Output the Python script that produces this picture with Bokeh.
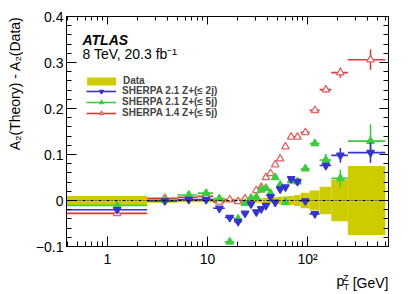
import numpy as np
from bokeh.plotting import figure
from bokeh.models import (FixedTicker, LogAxis, LinearAxis, Label, Legend, LegendItem,
                          Range1d, ColumnDataSource, Span, CustomJSTickFormatter, Title)
from bokeh.embed import file_html
from bokeh.resources import INLINE

# ---------------- data ----------------
bin_edges = [0, 2.5, 5, 8, 11.4, 14.9, 18.5, 22, 25.5, 29, 32.6, 36.4, 40.4, 44.9,
             50.2, 56.4, 63.9, 73.4, 85.4, 105, 132, 173, 253, 600]

data_unc = [0.010, 0.005, 0.004, 0.004, 0.004, 0.004, 0.004, 0.004, 0.005, 0.005,
            0.005, 0.006, 0.006, 0.007, 0.008, 0.009, 0.010, 0.012, 0.017, 0.022,
            0.030, 0.045, 0.075]

sh21_2j_val = [-0.020, -0.001, 0.002, 0.002, -0.017, -0.037, -0.046, -0.028, -0.008,
               -0.025, -0.018, -0.011, 0.008, -0.004, 0.025, 0.029, 0.047, 0.041,
               -0.001, -0.029, 0.076, 0.098, 0.104]
sh21_2j_err = [0.002, 0.002, 0.002, 0.002, 0.002, 0.002, 0.002, 0.002, 0.002, 0.002,
               0.002, 0.002, 0.002, 0.003, 0.003, 0.003, 0.003, 0.004, 0.004, 0.005,
               0.007, 0.016, 0.022]

sh21_5j_val = [-0.011, 0.001, 0.012, 0.016, 0.004, -0.090, -0.040, -0.006, 0.005,
               0.007, 0.023, 0.027, 0.016, 0.050, 0.034, -0.004, 0.043, 0.041,
               0.069, 0.124, 0.088, 0.048, 0.129]
sh21_5j_err = [0.002, 0.002, 0.002, 0.002, 0.002, 0.002, 0.002, 0.002, 0.002, 0.002,
               0.002, 0.002, 0.003, 0.003, 0.003, 0.003, 0.004, 0.004, 0.005, 0.006,
               0.013, 0.019, 0.036]

sh14_5j_val = [-0.028, 0.005, 0.007, 0.009, -0.003, 0.002, -0.002, 0.004, 0.004,
               0.022, 0.029, 0.050, 0.059, 0.078, 0.091, 0.117, 0.138, 0.138,
               0.148, 0.196, 0.241, 0.278, 0.306]
sh14_5j_err = [0.002, 0.002, 0.002, 0.002, 0.002, 0.002, 0.002, 0.002, 0.002, 0.002,
               0.002, 0.002, 0.003, 0.003, 0.003, 0.003, 0.004, 0.004, 0.004, 0.004,
               0.006, 0.011, 0.022]

y_ticks = [-0.1, 0.0, 0.1, 0.2, 0.3, 0.4]
x_ticks = [1, 10, 100]

labels = {
    "data": "Data",
    "b": "SHERPA 2.1 Z+(\u2264 2j)",
    "g": "SHERPA 2.1 Z+(\u2264 5j)",
    "r": "SHERPA 1.4 Z+(\u2264 5j)",
}

# ---------------- style ----------------
FONT = "Liberation Sans"
YEL = "#CCCC00"
BLUE = "#3535CC"
GREEN = "#3DCC3D"
RED = "#D63A3A"
RED_M = "#E06464"

x_start, x_end = 0.39, 645.0
lo = [max(e, x_start) for e in bin_edges[:-1]]
hi = bin_edges[1:]
centers = [(a + b) / 2 for a, b in zip(bin_edges[:-1], bin_edges[1:])]

p = figure(width=409, height=294, x_axis_type="log",
           x_range=Range1d(x_start, x_end), y_range=Range1d(-0.1, 0.4),
           output_backend="svg", toolbar_location=None,
           min_border_left=66, min_border_right=21, min_border_top=16, min_border_bottom=48)
p.xgrid.visible = False
p.ygrid.visible = False
p.outline_line_color = "black"
p.background_fill_color = "white"
p.border_fill_color = "white"

x_minor = [m * 10.0 ** d for d in (-1, 0, 1, 2) for m in range(2, 10)
           if x_start <= m * 10.0 ** d <= x_end]
xticker = FixedTicker(ticks=x_ticks, minor_ticks=x_minor)
yticker = FixedTicker(ticks=y_ticks, minor_ticks=[round(-0.1 + 0.02 * i, 2) for i in range(26)])

yfmt = CustomJSTickFormatter(code="""
if (Math.abs(tick) < 1e-9) return '0';
const s = Math.abs(tick).toFixed(1);
return tick < 0 ? '\u2212' + s : s;""")
xfmt = CustomJSTickFormatter(code="""
if (tick > 99) return '10\u00b2';
return tick.toFixed(0);""")


def style_axis(ax, major_in, minor_in, show_labels):
    ax.major_tick_in = major_in
    ax.major_tick_out = 0
    ax.minor_tick_in = minor_in
    ax.minor_tick_out = 0
    ax.axis_line_color = "black"
    ax.major_tick_line_color = "black"
    ax.minor_tick_line_color = "black"
    if show_labels:
        ax.major_label_text_font = FONT
        ax.major_label_text_font_size = "14px"
        ax.major_label_text_color = "black"
    else:
        ax.major_label_text_font_size = "1px"
        ax.major_label_text_color = None
        ax.major_label_standoff = 0


xa = p.xaxis[0]
xa.ticker = xticker
xa.formatter = xfmt
style_axis(xa, 10, 5, True)
xa.major_label_standoff = 4

ya = p.yaxis[0]
ya.ticker = yticker
ya.formatter = yfmt
style_axis(ya, 10, 5, True)
ya.major_label_standoff = 3

top = LogAxis(ticker=xticker)
style_axis(top, 8, 4, False)
p.add_layout(top, "above")
right = LinearAxis(ticker=yticker)
style_axis(right, 9, 5, False)
p.add_layout(right, "right")

# data band
band = p.quad(left=lo, right=hi, bottom=[-u for u in data_unc], top=data_unc,
              fill_color=YEL, line_color=None)

p.add_layout(Span(location=0, dimension="width", line_color="black",
                  line_dash="3 2 1 2", line_width=1))


def series(vals, errs, color, marker, fill, mcolor):
    src = ColumnDataSource(dict(x=centers, lo=lo, hi=hi, y=vals,
                                ylo=[v - e for v, e in zip(vals, errs)],
                                yhi=[v + e for v, e in zip(vals, errs)]))
    h = p.segment(x0="lo", x1="hi", y0="y", y1="y", source=src,
                  line_color=color, line_width=1.6)
    p.segment(x0="x", x1="x", y0="ylo", y1="yhi", source=src,
              line_color=color, line_width=1.6)
    s = p.scatter("x", "y", source=src, marker=marker, size=7.5,
                  fill_color=fill, line_color=mcolor, line_width=1.3)
    return h, s


rh, rs = series(sh14_5j_val, sh14_5j_err, RED, "triangle", "white", RED_M)
gh, gs = series(sh21_5j_val, sh21_5j_err, GREEN, "triangle", GREEN, GREEN)
bh, bs = series(sh21_2j_val, sh21_2j_err, BLUE, "inverted_triangle", BLUE, BLUE)

leg_style = dict(glyph_height=10, label_height=10, spacing=0, padding=0, margin=0,
                 border_line_color=None, background_fill_alpha=0,
                 label_text_font=FONT, label_text_font_size="10px",
                 label_text_font_style="bold", label_text_baseline="middle")

leg_data = Legend(items=[LegendItem(label=labels["data"], renderers=[band])],
                  location=(17, 160), glyph_width=36, label_standoff=4, **leg_style)
leg_mc = Legend(items=[LegendItem(label=labels["b"], renderers=[bh, bs]),
                       LegendItem(label=labels["g"], renderers=[gh, gs]),
                       LegendItem(label=labels["r"], renderers=[rh, rs])],
                location=(20, 128), glyph_width=30, label_standoff=6, **leg_style)
p.add_layout(leg_data)
p.add_layout(leg_mc)


def mk(x, y, text, size="14px", align="left", baseline="middle", style="normal"):
    return Label(x=x, y=y, x_units="screen", y_units="screen", text=text,
                 text_font=FONT, text_font_size=size, text_align=align,
                 text_baseline=baseline, text_font_style=style, text_color="black")


# texts inside the frame
p.add_layout(mk(16, 207, "ATLAS", style="bold italic"))
p.add_layout(mk(16, 193, "8 TeV, 20.3 fb\u207b\u00b9"))

# x-axis title pieces, placed in the side panels so they are not clipped
p.add_layout(mk(322, 3, "[GeV]", align="right", baseline="alphabetic"), "below")
p.add_layout(mk(-52, -34, "p", baseline="alphabetic"), "right")
p.add_layout(mk(315.5, -31, "Z", size="9px", baseline="alphabetic"), "left")
p.add_layout(mk(321, -40, "T", size="9px", baseline="alphabetic"), "left")

# y-axis title
p.add_layout(Title(text="A\u2082(Theory) - A\u2082(Data)", align="right",
                   text_font=FONT, text_font_size="14px", text_font_style="normal",
                   text_color="black", standoff=0), "left")

open("out.html", "w").write(file_html(p, INLINE))
